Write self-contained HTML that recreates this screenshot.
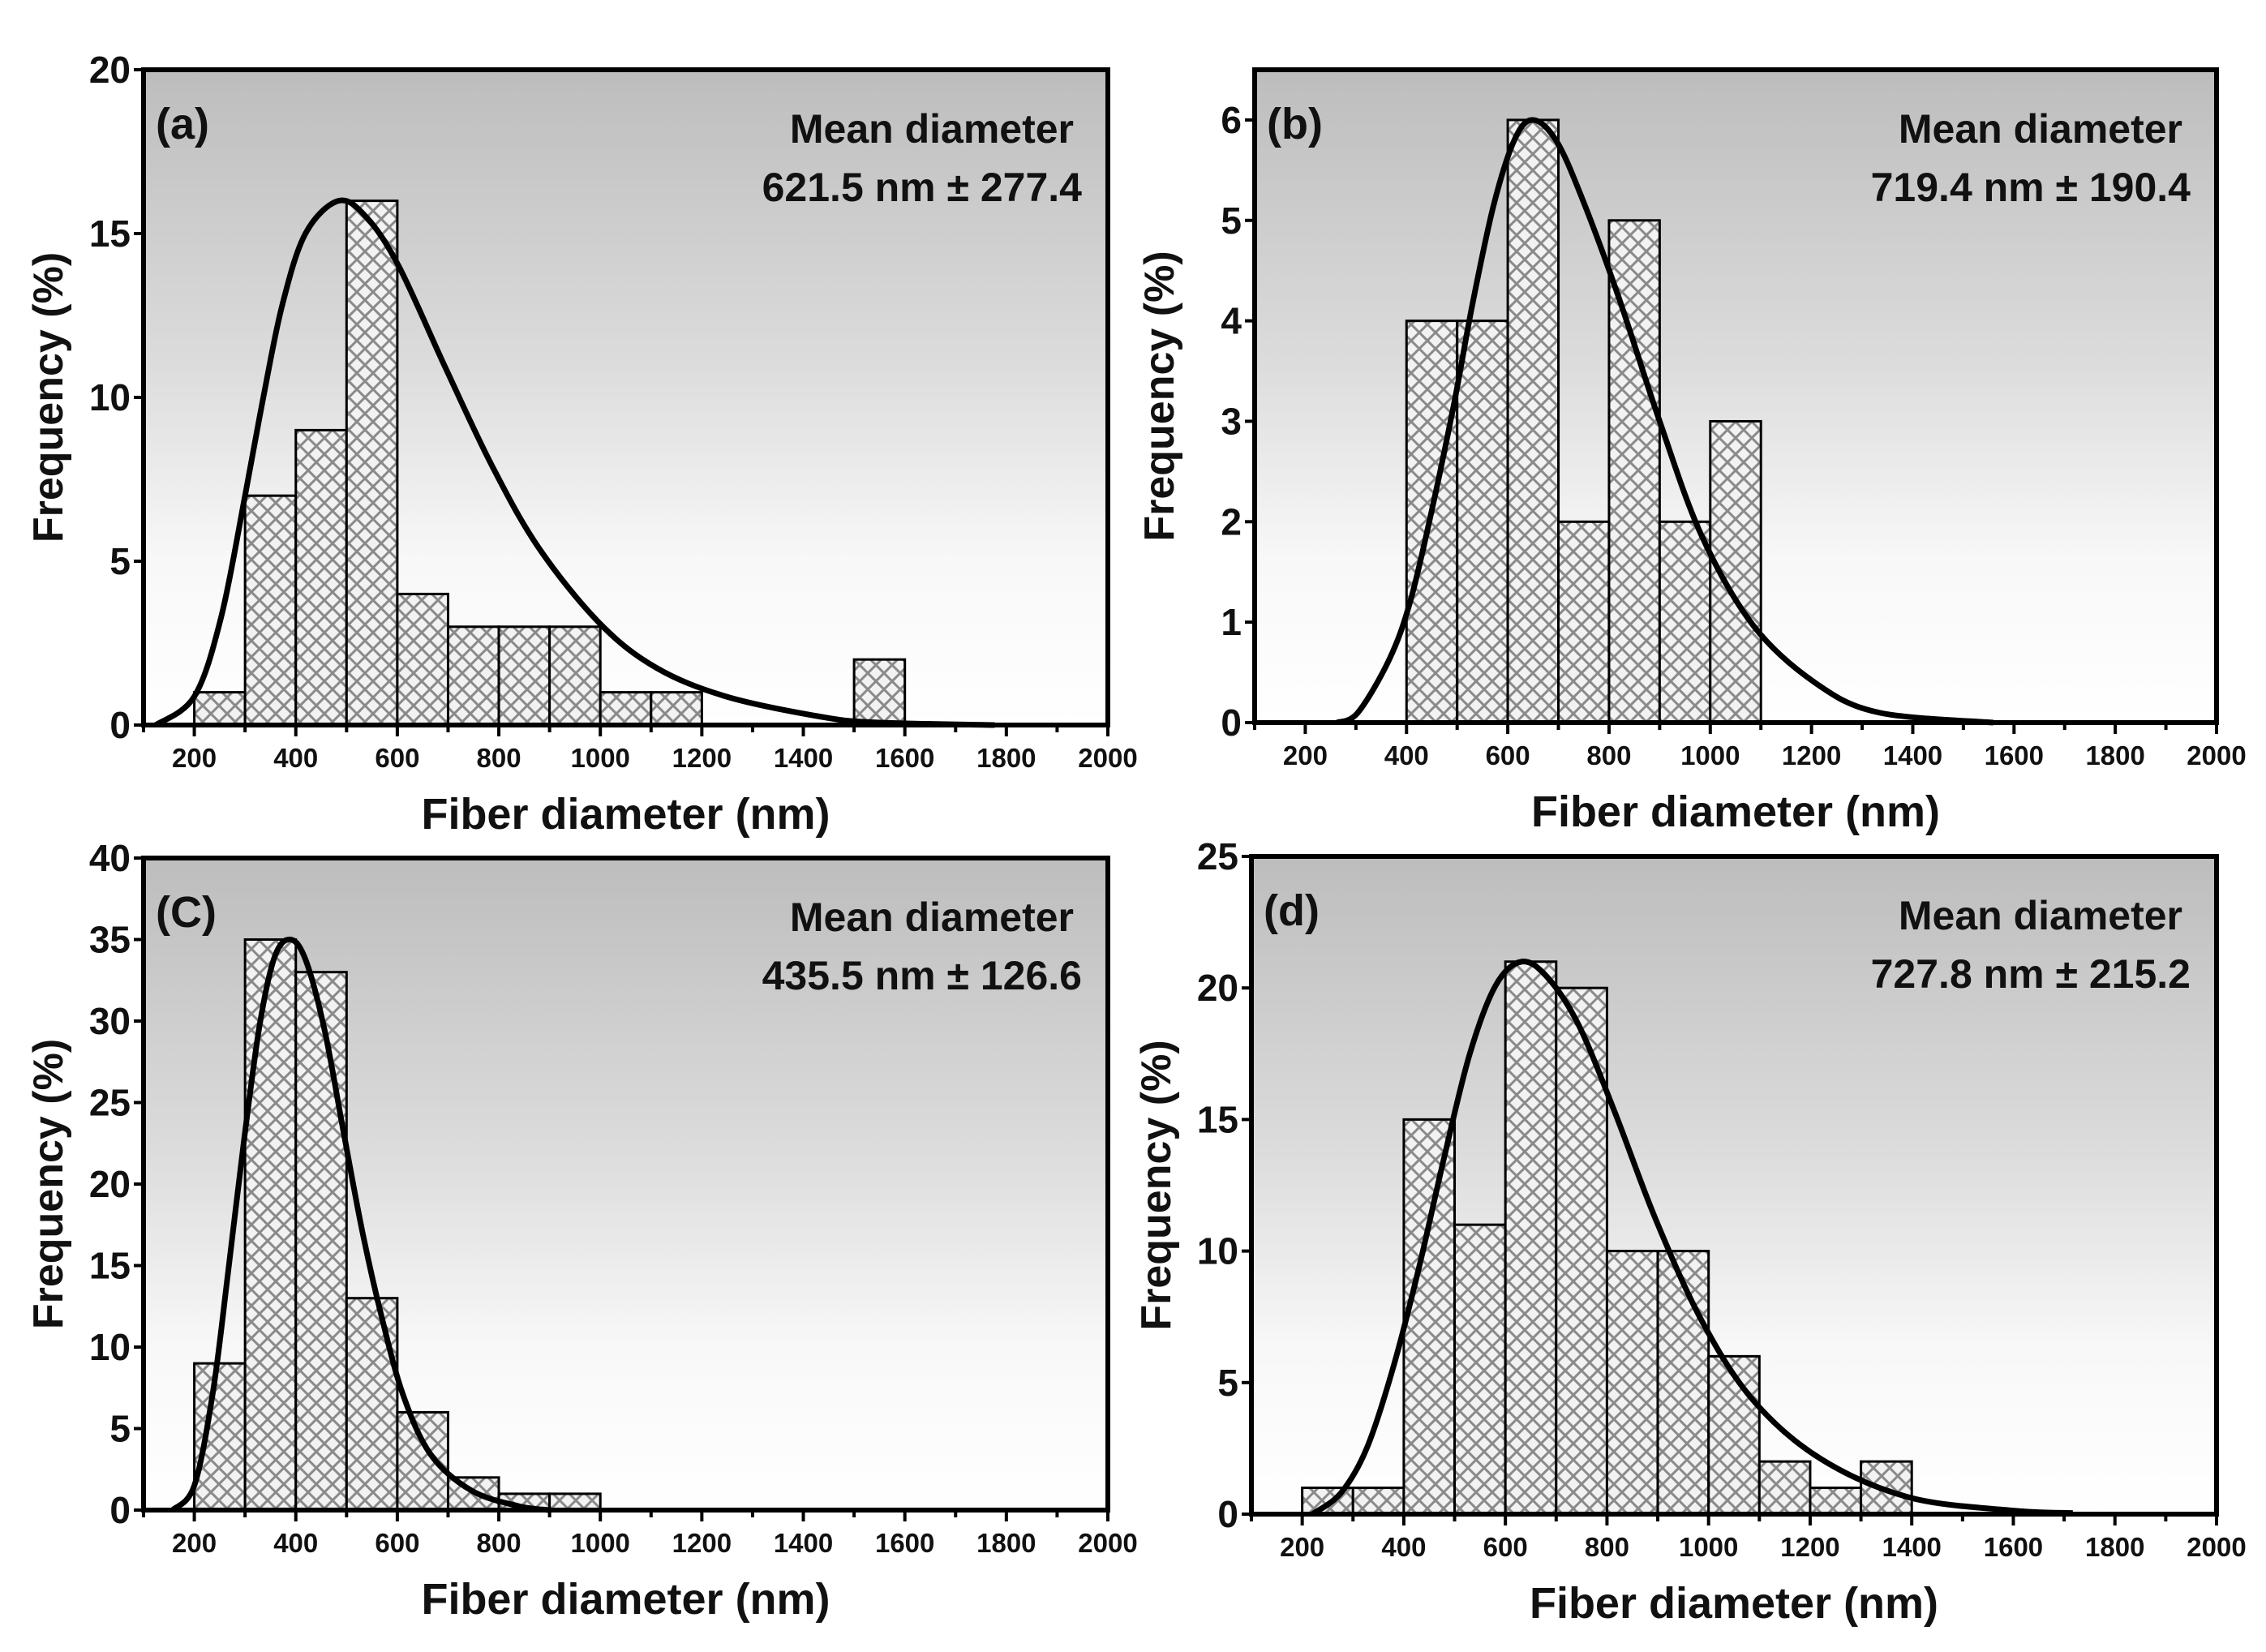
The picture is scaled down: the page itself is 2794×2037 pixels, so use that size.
<!DOCTYPE html>
<html><head><meta charset="utf-8">
<style>
html,body{margin:0;padding:0;background:#fff;}
svg{display:block;}
</style></head>
<body>
<svg id="fig" xmlns="http://www.w3.org/2000/svg" width="2794" height="2037" viewBox="0 0 2794 2037">
<defs>
<linearGradient id="bg" x1="0" y1="0" x2="0" y2="1">
<stop offset="0" stop-color="#bdbdbd"/>
<stop offset="0.45" stop-color="#dcdcdc"/>
<stop offset="0.75" stop-color="#f8f8f8"/>
<stop offset="1" stop-color="#ffffff"/>
</linearGradient>
<pattern id="hatch" width="20" height="20" patternUnits="userSpaceOnUse">
<rect width="20" height="20" fill="#f2f2f2"/>
<path d="M-5,5 L5,-5 M0,20 L20,0 M15,25 L25,15 M-5,15 L5,25 M0,0 L20,20 M15,-5 L25,5" stroke="#8a8a8a" stroke-width="3"/>
</pattern>
</defs>
</svg>
<script>
// ---- data: panel (a)
const aBinStart = [200,300,400,500,600,700,800,900,1000,1100,1500];
const aFreq = [1,7,9,16,4,3,3,3,1,1,2];
const aFitX = [124,200,253,300,336,373,419,484,539,603,695,787,879,999,1110,1248,1432,1541,1777];
const aFitY = [0,0.87,3.3,7.0,10,12.8,15.0,16.0,15.5,14.0,10.9,7.9,5.4,3.1,1.75,0.87,0.26,0.08,0];
// ---- panel (b)
const bBinStart = [400,500,600,700,800,900,1000];
const bFreq = [4,4,6,2,5,2,3];
const bFitX = [263,304,366,407,448,494,530,572,613,649,695,746,818,900,983,1086,1209,1333,1559];
const bFitY = [0,0.1,0.63,1.2,2.07,3.18,4.16,5.15,5.8,6.0,5.8,5.23,4.25,3.0,1.86,0.96,0.39,0.1,0];
// ---- panel (c)
const cBinStart = [200,300,400,500,600,700,800,900];
const cFreq = [9,35,33,13,6,2,1,1];
const cFitX = [157,200,237,267,298,329,359,390,420,457,494,531,568,611,666,746,838,899];
const cFitY = [0,1.5,7.3,14.7,22.7,29.8,34,35,33.7,29.4,23.2,17.1,12,7.1,3.4,1.2,0.25,0];
// ---- panel (d)
const dBinStart = [200,300,400,500,600,700,800,900,1000,1100,1200,1300];
const dFreq = [1,1,15,11,21,20,10,10,6,2,1,2];
const dFitX = [220,276,327,378,429,480,530,581,632,683,744,815,896,988,1089,1221,1394,1597,1717];
const dFitY = [0,0.8,2.5,5.5,9.3,13.6,17.5,20.1,21.0,20.4,18.6,15.3,11.2,7.3,4.3,2.1,0.64,0.14,0.04];
// ---- tick labels
const xTickLabels = [200,400,600,800,1000,1200,1400,1600,1800,2000];
const aYTicks = [0,5,10,15,20];
const bYTicks = [0,1,2,3,4,5,6];
const cYTicks = [0,5,10,15,20,25,30,35,40];
const dYTicks = [0,5,10,15,20,25];

const NS = "http://www.w3.org/2000/svg";
const svg = document.getElementById('fig');
function mk(tag, attrs, parent){
  const e = document.createElementNS(NS, tag);
  for (const k in attrs) e.setAttribute(k, attrs[k]);
  (parent||svg).appendChild(e);
  return e;
}

const panels = [
 {id:'a', L:177, T:86, R:1366, B:894, ymax:20, ticks:aYTicks, bins:aBinStart, freq:aFreq, fx:aFitX, fy:aFitY,
  label:'(a)', mean:'621.5 nm', sd:'277.4', font:'"Liberation Sans Narrow","Liberation Sans",sans-serif'},
 {id:'b', L:1547, T:86, R:2733, B:891, ymax:6.5, ticks:bYTicks, bins:bBinStart, freq:bFreq, fx:bFitX, fy:bFitY,
  label:'(b)', mean:'719.4 nm', sd:'190.4', font:'"Liberation Sans Narrow","Liberation Sans",sans-serif'},
 {id:'c', L:177, T:1058, R:1366, B:1862, ymax:40, ticks:cYTicks, bins:cBinStart, freq:cFreq, fx:cFitX, fy:cFitY,
  label:'(C)', mean:'435.5 nm', sd:'126.6', font:'"Liberation Sans",sans-serif'},
 {id:'d', L:1543, T:1056, R:2733, B:1867, ymax:25, ticks:dYTicks, bins:dBinStart, freq:dFreq, fx:dFitX, fy:dFitY,
  label:'(d)', mean:'727.8 nm', sd:'215.2', font:'"Liberation Sans Narrow","Liberation Sans",sans-serif'}
];

panels.forEach(p => {
  const g = mk('g', {});
  
  
  const xs = v => p.L + (v - 100) / 1900 * (p.R - p.L);
  const ys = v => p.B - v / p.ymax * (p.B - p.T);

  const bg = mk('rect', {x:p.L, y:p.T, width:p.R-p.L, height:p.B-p.T, fill:'url(#bg)'}, g);
  
  

  p.bins.forEach((b, i) => {
    const r = mk('rect', {x:xs(b), y:ys(p.freq[i]), width:xs(b+100)-xs(b), height:ys(0)-ys(p.freq[i]),
      fill:'url(#hatch)', stroke:'#000', 'stroke-width':3}, g);
    
    
  });

  const pts = p.fx.map((x, i) => [xs(x), ys(p.fy[i])]);
  let d = 'M' + pts[0][0] + ',' + pts[0][1];
  for (let i = 0; i < pts.length - 1; i++) {
    const p0 = pts[Math.max(0, i-1)], p1 = pts[i], p2 = pts[i+1], p3 = pts[Math.min(pts.length-1, i+2)];
    const c1 = [p1[0] + (p2[0]-p0[0])/6, p1[1] + (p2[1]-p0[1])/6];
    const c2 = [p2[0] - (p3[0]-p1[0])/6, p2[1] - (p3[1]-p1[1])/6];
    d += ' C' + c1.join(',') + ' ' + c2.join(',') + ' ' + p2.join(',');
  }
  const curve = mk('path', {d:d, fill:'none', stroke:'#000', 'stroke-width':7, 'stroke-linejoin':'round'}, g);
  
  

  const frame = mk('rect', {x:p.L, y:p.T, width:p.R-p.L, height:p.B-p.T, fill:'none', stroke:'#000', 'stroke-width':6}, g);
  
  

  for (let v = 100; v <= 2000; v += 100) {
    const major = v % 200 === 0;
    const t = mk('line', {x1:xs(v), x2:xs(v), y1:p.B, y2:p.B + (major ? 14 : 9), stroke:'#000', 'stroke-width':4}, g);
    
    
  }
  xTickLabels.forEach(v => {
    const t = mk('text', {x:xs(v), y:p.B + 52, 'text-anchor':'middle', 'font-size':33, 'font-weight':'bold',
      'font-family':p.font, fill:'#111'}, g);
    t.textContent = v;
    
    
  });
  p.ticks.forEach(v => {
    const t = mk('line', {x1:p.L - 12, x2:p.L, y1:ys(v), y2:ys(v), stroke:'#000', 'stroke-width':4}, g);
    
    
    const l = mk('text', {x:p.L - 16, y:ys(v) + 16, 'text-anchor':'end', 'font-size':46, 'font-weight':'bold',
      'font-family':p.font, fill:'#111'}, g);
    l.textContent = v;
    
    
  });
  const xt = mk('text', {x:(p.L+p.R)/2, y:p.B + 128, 'text-anchor':'middle', 'font-size':54, 'font-weight':'bold',
    'font-family':'"Liberation Sans",sans-serif', fill:'#111'}, g);
  xt.textContent = 'Fiber diameter (nm)';
  
  
  const cy = (p.T + p.B) / 2;
  const yx = p.L - 100;
  const yt = mk('text', {x:yx, y:cy, 'text-anchor':'middle', 'font-size':52, 'font-weight':'bold',
    'font-family':'"Liberation Sans",sans-serif', fill:'#111', transform:'rotate(-90 ' + yx + ' ' + cy + ')'}, g);
  yt.textContent = 'Frequency (%)';
  
  
  const pl = mk('text', {x:p.L + 15, y:p.T + 85, 'font-size':54, 'font-weight':'bold',
    'font-family':p.font, fill:'#111'}, g);
  pl.textContent = p.label;
  
  
  const m1 = mk('text', {x:p.R - 42, y:p.T + 90, 'text-anchor':'end', 'font-size':50, 'font-weight':'bold',
    'font-family':p.font, fill:'#111'}, g);
  m1.textContent = 'Mean diameter';
  
  
  const m2 = mk('text', {x:p.R - 32, y:p.T + 162, 'text-anchor':'end', 'font-size':50, 'font-weight':'bold',
    'font-family':p.font, fill:'#111'}, g);
  m2.textContent = p.mean + ' \u00B1 ' + p.sd;
  
  
});
</script>
</body></html>
